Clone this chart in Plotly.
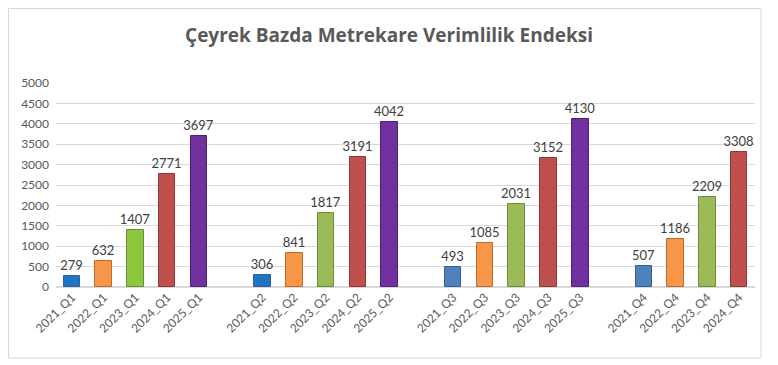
import plotly.graph_objects as go

# ---- data ----
categories = ["2021_Q1", "2022_Q1", "2023_Q1", "2024_Q1", "2025_Q1", "",
              "2021_Q2", "2022_Q2", "2023_Q2", "2024_Q2", "2025_Q2", "",
              "2021_Q3", "2022_Q3", "2023_Q3", "2024_Q3", "2025_Q3", "",
              "2021_Q4", "2022_Q4", "2023_Q4", "2024_Q4"]
values = [279, 632, 1407, 2771, 3697, None,
          306, 841, 1817, 3191, 4042, None,
          493, 1085, 2031, 3152, 4130, None,
          507, 1186, 2209, 3308]
y_ticks = [0, 500, 1000, 1500, 2000, 2500, 3000, 3500, 4000, 4500, 5000]
title_text = "Çeyrek Bazda Metrekare Verimlilik Endeksi"

# ---- style ----
year_colors = {
    "2021": "#4F81BD", "2022": "#F79646", "2023": "#9BBB59",
    "2024": "#C0504D", "2025": "#7030A0",
}
year_lines = {
    "2021": "#385D8A", "2022": "#B66D31", "2023": "#71893F",
    "2024": "#8C3836", "2025": "#4F2270",
}
override = {"2021_Q1": "#1F74C6", "2021_Q2": "#1F74C6", "2023_Q1": "#8DC63F"}

xs, ys, cols, lcols, texts = [], [], [], [], []
for i, (c, v) in enumerate(zip(categories, values)):
    if v is None:
        continue
    yr = c[:4]
    xs.append(i)
    ys.append(v)
    cols.append(override.get(c, year_colors[yr]))
    lcols.append(year_lines[yr])
    texts.append(str(v))

fig = go.Figure()
fig.add_trace(go.Bar(
    x=xs, y=ys, width=0.52,
    marker=dict(color=cols, line=dict(color=lcols, width=1)),
    text=texts, textposition="outside", cliponaxis=False, constraintext="none",
    textfont=dict(family="Lato, Open Sans, sans-serif", size=13, color="#404040"),
    hoverinfo="x+y",
))

# page body has an 8px margin: figure is placed at (8, 8) in the window
OFF = 8
W, H = 778 - OFF, 365 - OFF
L, R = 56 - OFF, 23
T, B = 83 - OFF, 78
pw, ph = W - L - R, H - T - B

fig.update_layout(
    width=W, height=H,
    margin=dict(l=L, r=R, t=T, b=B, autoexpand=False),
    paper_bgcolor="white", plot_bgcolor="white",
    showlegend=False,
    bargap=0,
    title=dict(text="<b>" + title_text + "</b>", x=(389 - OFF) / W, xanchor="center",
               y=1 - (35 - OFF) / H, yanchor="middle",
               font=dict(family="Open Sans, sans-serif", size=19, color="#595959")),
    xaxis=dict(
        range=[-0.5, len(categories) - 0.5], automargin=False,
        tickmode="array", tickvals=list(range(len(categories))), ticktext=categories,
        tickangle=-45, showgrid=False, zeroline=False, showline=False, ticks="",
        tickfont=dict(family="Lato, Open Sans, sans-serif", size=12, color="#595959"),
    ),
    yaxis=dict(
        range=[0, 5000], tickmode="array", tickvals=y_ticks, automargin=False,
        showgrid=True, gridcolor="#D9D9D9", gridwidth=1,
        zeroline=True, zerolinecolor="#D9D9D9", showline=False, ticks="",
        tickfont=dict(family="Lato, Open Sans, sans-serif", size=12, color="#595959"),
        ticklabelstandoff=6,
    ),
    shapes=[dict(
        type="rect", xref="paper", yref="paper",
        x0=(0.5 - L) / pw, x1=(761 - OFF - L) / pw,
        y0=(H - B - (358 - OFF)) / ph, y1=(H - B - 0.5) / ph,
        line=dict(color="#D9D9D9", width=1), fillcolor="rgba(0,0,0,0)", layer="below",
    )],
)

fig.write_html("out.html")
